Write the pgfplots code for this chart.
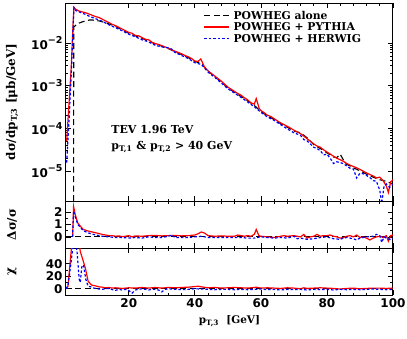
\documentclass[border=0pt]{standalone}
\usepackage{fontspec}
\setmainfont{DejaVu Serif}
\newfontfamily\tickfont{DejaVu Sans}
\usepackage{pgfplots}
\pgfplotsset{compat=1.18}

\pgfplotsset{
  panel/.style={
    width=327pt, scale only axis,
    xmin=1, xmax=100,
    xtick={20,40,60,80,100}, minor x tick num=4,
    axis line style={line width=1pt},
    every tick/.style={line width=0.7pt, black},
    major tick length=5pt, minor tick length=2.5pt,
    tick label style={font=\tickfont\bfseries\fontsize{12}{12}\selectfont},
    /pgf/number format/assume math mode=true,
    every axis y label/.style={at={(axis description cs:-0.165,0.5)}, rotate=90, anchor=center,
      font=\bfseries\fontsize{12}{12}\selectfont},
    every axis x label/.style={at={(axis description cs:0.5,0)}, anchor=center, yshift=-26pt,
      font=\bfseries\fontsize{10.5}{12}\selectfont},
  },
  pyth/.style={red, line width=1.2pt},
  herw/.style={blue, line width=1.2pt, dash pattern=on 2.5pt off 2pt},
  alone/.style={black, line width=1.1pt, dash pattern=on 6pt off 3.5pt},
}
\newcommand{\sexp}[1]{\raisebox{0.45em}{\fontsize{9.5}{10}\selectfont #1}}

\begin{document}
\begin{tikzpicture}
\path[use as bounding box] (-66pt,-137pt) rectangle (341pt,201pt);

% main panel
\begin{axis}[panel,
  at={(0pt,0pt)}, anchor=south west, height=198pt,
  ymode=log, ymin=2e-6, ymax=0.087,
  ytick={1e-5,1e-4,1e-3,1e-2},
  yticklabels={10\sexp{−5},10\sexp{−4},10\sexp{−3},10\sexp{−2}},
  xticklabels={},
  ylabel={dσ/dp\textsubscript{T,3}~[μb/GeV]},
  legend style={at={(axis description cs:0.41,0.975)}, anchor=north west,
    draw=none, fill=none, font=\bfseries\fontsize{10.8}{10.8}\selectfont,
    row sep=0.5pt, column sep=3pt,
    nodes={inner sep=0.75pt}},
  legend cell align=left,
  legend image code/.code={\draw[#1, line width=1.5pt] (0pt,0.3pt) -- (25pt,0.3pt);},
]
\addplot[alone] coordinates {
(3.3,2e-6) (3.35,2.40e-2) (4,2.63e-2) (5,2.95e-2) (6,3.16e-2) (7,3.31e-2) (8,3.47e-2) (9,3.47e-2)
(10,3.39e-2) (11,3.31e-2) (12,3.16e-2) (13,3.02e-2) (14,2.82e-2) (16,2.45e-2) (18,2.04e-2)
(20,1.70e-2) (22,1.48e-2) (24,1.29e-2) (26,1.12e-2) (28,9.55e-3) (30,8.51e-3) (32,7.41e-3)
(34,6.31e-3) (36,5.37e-3) (38,4.57e-3) (40,3.72e-3) (42,3.31e-3) (44,2.19e-3) (46,1.66e-3)
(48,1.23e-3) (50,8.91e-4) (52,7.08e-4) (54,5.62e-4) (56,4.47e-4) (58,3.47e-4) (60,2.51e-4)
(62,1.95e-4) (64,1.62e-4) (66,1.29e-4) (68,1.07e-4) (70,8.71e-5) (72,7.94e-5) (74,6.03e-5)
(76,4.17e-5) (78,3.39e-5) (80,2.69e-5) (82,2.14e-5) (83,2.09e-5) (84,2.51e-5) (85,1.82e-5)
(86,1.45e-5) (88,1.20e-5) (90,1.02e-5) (92,8.51e-6) (94,7.24e-6) (96,6.31e-6) (98,5.75e-6) (100,5.01e-6)
};
\addlegendentry{POWHEG alone}
\addplot[pyth] coordinates {
(1.2,5.0e-5) (1.6,1.58e-4) (2.6,2.82e-3) (3.1,2.40e-2) (3.4,6.92e-2) (4,6.17e-2) (5,5.62e-2)
(6,5.37e-2) (7,5.13e-2) (8,4.79e-2) (9,4.47e-2) (10,4.17e-2) (11,3.98e-2) (12,3.63e-2)
(13,3.31e-2) (14,3.02e-2) (15,2.75e-2) (16,2.57e-2) (17,2.34e-2) (18,2.14e-2) (19,1.95e-2)
(20,1.78e-2) (21,1.70e-2) (22,1.51e-2) (23,1.48e-2) (24,1.35e-2) (25,1.23e-2) (26,1.20e-2)
(27,1.05e-2) (28,9.77e-3) (29,9.33e-3) (30,8.71e-3) (31,8.13e-3) (32,7.59e-3) (33,6.92e-3)
(34,6.46e-3) (35,6.03e-3) (36,5.62e-3) (37,5.13e-3) (38,4.79e-3) (39,4.37e-3) (40,3.80e-3)
(41,3.72e-3) (41.8,4.27e-3) (43,2.69e-3) (44,2.24e-3) (45,1.95e-3) (46,1.70e-3) (47,1.48e-3)
(48,1.29e-3) (49,1.10e-3) (50,9.33e-4) (51,8.32e-4) (52,7.41e-4) (53,6.61e-4) (54,6.03e-4)
(55,5.25e-4) (56,4.68e-4) (57,3.98e-4) (58,3.72e-4) (58.6,5.01e-4) (59.5,2.95e-4) (60,2.63e-4)
(61,2.34e-4) (62,2.04e-4) (63,1.91e-4) (64,1.70e-4) (65,1.51e-4) (66,1.35e-4) (67,1.23e-4)
(68,1.12e-4) (69,1.02e-4) (70,9.12e-5) (71,8.32e-5) (72,7.59e-5) (73,6.61e-5) (74,5.75e-5)
(75,5.01e-5) (76,4.37e-5) (77,3.89e-5) (78,3.63e-5) (79,3.16e-5) (80,2.82e-5) (81,2.51e-5)
(82,2.24e-5) (83,2.00e-5) (84,1.86e-5) (85,1.70e-5) (86,1.51e-5) (87,1.38e-5) (88,1.29e-5)
(89,1.20e-5) (90,1.10e-5) (91,1.00e-5) (92,9.12e-6) (93,8.32e-6) (94,7.76e-6) (95,6.92e-6)
(96,7.24e-6) (97,6.03e-6) (98,4.47e-6) (98.6,3.16e-6) (99.3,5.62e-6) (100,6.31e-6)
};
\addlegendentry{POWHEG + PYTHIA}
\addplot[herw] coordinates {
(1.2,1.58e-5) (2,2.0e-4) (2.6,2.0e-3) (3.1,1.91e-2) (3.4,6.76e-2) (4,5.75e-2) (5,5.37e-2)
(6,5.01e-2) (7,4.68e-2) (8,4.27e-2) (9,3.98e-2) (10,3.72e-2) (12,3.24e-2) (14,2.69e-2)
(16,2.29e-2) (18,1.95e-2) (20,1.62e-2) (22,1.41e-2) (24,1.20e-2) (26,1.07e-2) (28,8.91e-3)
(30,8.13e-3) (32,7.76e-3) (33,7.24e-3) (34,6.03e-3) (36,5.13e-3) (38,4.37e-3) (40,3.47e-3)
(42,3.16e-3) (44,2.09e-3) (46,1.58e-3) (48,1.17e-3) (50,8.51e-4) (52,6.76e-4) (54,5.37e-4)
(56,4.17e-4) (58,3.24e-4) (60,2.40e-4) (62,1.86e-4) (64,1.55e-4) (66,1.23e-4) (68,9.77e-5)
(70,7.94e-5) (72,6.92e-5) (73,5.50e-5) (74,5.13e-5) (76,3.63e-5) (77,3.39e-5) (78,3.02e-5)
(79,2.40e-5) (80,2.51e-5) (81,2.00e-5) (82,1.51e-5) (83,1.66e-5) (84,1.58e-5) (85,1.51e-5)
(86,1.32e-5) (87,1.17e-5) (88,1.12e-5) (89,6.92e-6) (90,8.91e-6) (91,8.71e-6) (92,7.94e-6)
(93,7.08e-6) (94,6.03e-6) (95,5.75e-6) (96,3.55e-6) (96.6,1.78e-6) (97.3,4.47e-6) (98,5.01e-6)
(99,4.17e-6) (100,5.01e-6)
};
\addlegendentry{POWHEG + HERWIG}
\node[anchor=base west, font=\bfseries\fontsize{11}{11}\selectfont] at (axis description cs:0.128,0.343) {TEV 1.96 TeV};
\node[anchor=base west, font=\bfseries\fontsize{11}{11}\selectfont] at (axis description cs:0.128,0.258)
  {p\textsubscript{T,1} \& p\textsubscript{T,2} > 40 GeV};
\end{axis}

% ratio panel
\begin{axis}[panel,
  at={(0pt,0pt)}, anchor=north west, height=47pt,
  ymin=-0.9, ymax=2.9, ytick={0,1,2}, minor y tick num=1,
  xticklabels={},
  ylabel={Δσ/σ},
]
\addplot[alone] coordinates {(1,0) (100,0)};
\addplot[pyth] coordinates {
(3.0,0) (3.3,2.45) (3.8,1.8) (4.6,1.1) (6.2,0.6) (8,0.45) (10.2,0.32) (12,0.2) (14,0.1)
(15,0.1) (16,0.05) (17,0.08) (18,0.02) (19,0.05) (20,0.1) (21,0.0) (22,0.08) (24,0.05)
(26,0.1) (28,0.12) (30,0.08) (32,0.1) (34,0.12) (36,0.08) (38,0.1) (40,0.15) (41,0.25)
(42,0.4) (43,0.3) (44,0.1) (46,0.05) (48,0.08) (50,0.05) (52,0.05) (53,0.15) (54,0.1)
(55,0.05) (56,0.1) (57,0.05) (58,0.2) (58.6,0.6) (59.4,0.1) (60,0.05) (62,0.0) (64,-0.05)
(66,0.05) (67,0.1) (68,0.05) (70,0.1) (72,0.0) (73,0.2) (74,-0.1) (75,0.0) (76,0.05)
(77,0.2) (78,0.05) (79,0.1) (80,0.1) (81,0.15) (82,0.05) (83,0.0) (84,-0.1) (85,-0.05)
(86,0.05) (87,0.1) (88,0.0) (89,0.15) (90,-0.05) (91,0.0) (92,-0.1) (93,-0.25) (94,-0.1)
(95,0.0) (96,0.05) (97,-0.05) (98,0.1) (98.6,-0.35) (99.3,0.1) (100,0.15)
};
\addplot[herw] coordinates {
(3.0,0) (3.3,2.1) (3.8,1.6) (4.6,1.0) (6.2,0.5) (8,0.3) (10,0.15) (12,0.05) (14,0.0)
(16,-0.05) (18,-0.05) (20,-0.1) (22,-0.05) (24,-0.1) (26,0.0) (28,-0.05) (30,-0.05)
(32,0.05) (33,0.15) (34,-0.05) (36,-0.05) (38,-0.05) (40,0.0) (42,0.05) (44,-0.05)
(46,-0.05) (48,-0.05) (50,-0.05) (52,-0.05) (54,-0.05) (56,-0.1) (58,-0.1) (60,0.0)
(62,-0.05) (64,-0.1) (66,-0.05) (68,-0.1) (70,0.05) (71,-0.15) (72,-0.1) (74,-0.2)
(76,-0.15) (78,-0.05) (80,0.0) (82,-0.15) (84,-0.2) (85,-0.1) (86,-0.05) (88,-0.15)
(89,-0.25) (90,-0.1) (92,0.0) (94,0.05) (95,0.2) (96,0.1) (96.6,-0.45) (97.3,0.0)
(98,-0.1) (99,-0.2) (100,-0.15)
};
\end{axis}

% chi panel
\begin{axis}[panel,
  at={(0pt,-47pt)}, anchor=north west, height=47pt,
  ymin=-10, ymax=65, ytick={0,20,40}, minor y tick num=1,
  ylabel={χ},
  xlabel={p\textsubscript{T,3}~~[GeV]},
]
\addplot[alone] coordinates {(1,0) (100,0)};
\addplot[pyth] coordinates {
(1,0) (1.6,4) (2.6,62) (3.3,110) (4.4,110) (5.3,60) (6.0,48) (6.9,32) (7.7,12) (8.7,6)
(10,4.5) (11,3) (12,2.5) (13,1.5) (14,2) (15,1) (16,1.5) (18,0.5) (20,1.5) (22,1) (24,2)
(26,1) (28,2) (30,1) (32,2) (34,1.5) (36,2) (38,2.5) (40,3.5) (41,4) (42,3) (44,1.5)
(46,2) (48,1) (50,1.5) (52,2) (54,1.5) (56,1) (58,2) (58.6,2.5) (60,1) (62,1.5) (64,1)
(66,0.5) (68,1.5) (70,1) (72,0) (73,1.5) (74,0.5) (76,1) (78,1.5) (80,1) (82,0.5)
(84,-0.5) (86,0.5) (88,1) (90,0) (92,0.5) (94,1) (96,1) (98,0.5) (100,1)
};
\addplot[herw] coordinates {
(1,0) (1.6,5) (2.6,45) (3.1,68) (3.6,75) (4.3,62) (5.0,15) (5.3,10) (5.8,35) (6.3,38)
(7.0,15) (7.7,4) (8.5,3) (9,1.5) (10,0.5) (11,-0.5) (12,-1) (13,0) (14,0.5) (15,-1.5)
(16,-2.5) (17,-1) (18,-2) (19,-1) (20,-3) (21,-7) (22,-2) (23,-1) (24,0) (25,-1) (26,-2)
(27,-1) (28,-1) (29,-2) (30,-5) (31,-1) (32,0) (34,-1) (36,-1.5) (38,-1) (40,0) (42,-0.5)
(44,-1) (46,-1.5) (48,-1) (50,-1) (52,-1.5) (54,-1) (56,-1.5) (58,-1) (60,-0.5) (62,-1.5)
(64,-1) (66,-2) (68,-1) (70,-1.5) (72,-1) (74,-2) (76,-1) (78,-1.5) (80,-1) (82,-2)
(84,-1) (86,-1.5) (88,-1) (90,-1.5) (92,-1) (94,-0.5) (96,-1) (98,-1.5) (100,-1)
};
\end{axis}
\end{tikzpicture}
\end{document}
